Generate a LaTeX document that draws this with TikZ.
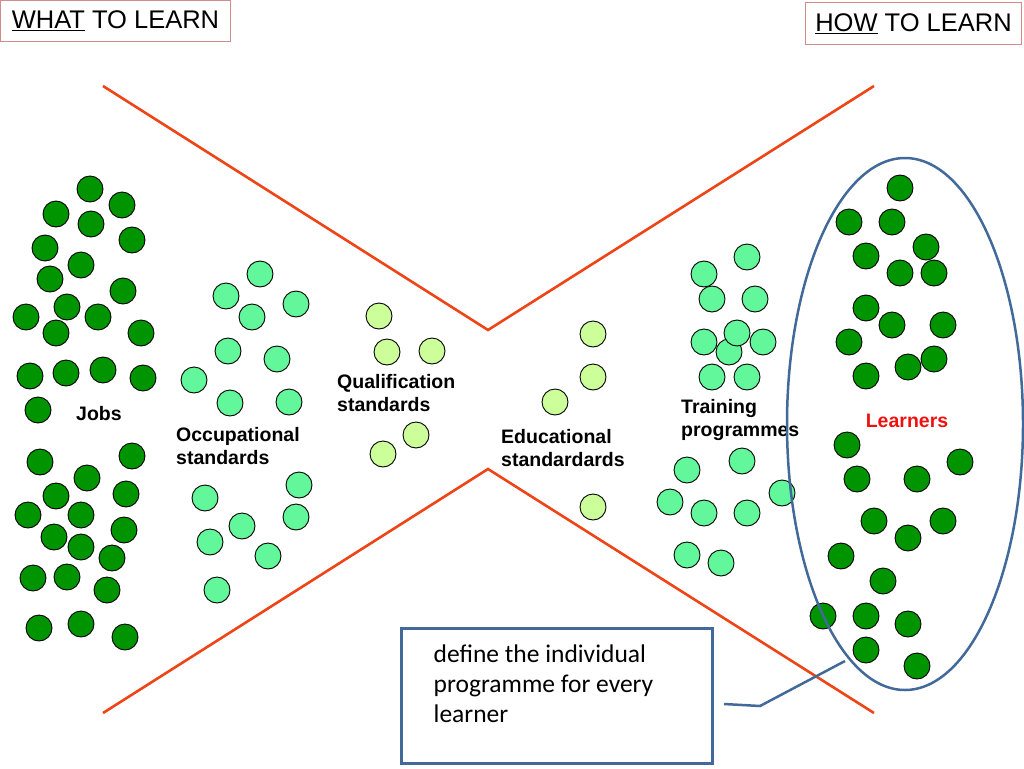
\documentclass[tikz,border=0pt]{standalone}
\usepackage{fontspec}
\setmainfont{Liberation Sans}
\newfontfamily\notefont{Carlito}
\usetikzlibrary{shapes.geometric}

\definecolor{jobgreen}{HTML}{009400}
\definecolor{occgreen}{HTML}{62F79A}
\definecolor{qualgreen}{HTML}{CCFF99}
\definecolor{funnelred}{HTML}{EE4416}
\definecolor{callblue}{HTML}{41699A}
\definecolor{tagred}{HTML}{D38C8C}
\definecolor{learnerred}{HTML}{F01010}

\begin{document}
\begin{tikzpicture}[x=1pt,y=-1pt,
  dot/.style={circle,draw=black,line width=0.9pt,minimum size=26pt,inner sep=0pt},
  jobdot/.style={dot,fill=jobgreen},
  occdot/.style={dot,fill=occgreen},
  qualdot/.style={dot,fill=qualgreen},
  grouplabel/.style={font=\fontsize{19.5}{23.5}\selectfont\bfseries,align=left,anchor=base west,inner sep=0pt},
  headtag/.style={draw=tagred,line width=1pt,anchor=north west,font=\fontsize{25.5}{30}\selectfont,text height=18.2pt,text depth=3pt,inner xsep=0pt},
  funnel/.style={draw=funnelred,line width=2.6pt},
  callout/.style={draw=callblue,line width=2.5pt}]
\useasboundingbox (0,0) rectangle (1024,768);

% headings
\node[headtag,minimum width=230pt,minimum height=41pt] (what) at (0,0) {\underline{WHAT} TO LEARN};
\node[headtag,minimum width=216pt,minimum height=42pt] (how) at (805,2) {\underline{HOW} TO LEARN};

% funnel
\coordinate (topleft) at (103,86);
\coordinate (topwaist) at (488,330);
\coordinate (topright) at (874,86);
\coordinate (botleft) at (103,713);
\coordinate (botwaist) at (488,469);
\coordinate (botright) at (874,713);
\draw[funnel] (topleft) -- (topwaist) -- (topright);
\draw[funnel] (botleft) -- (botwaist) -- (botright);

% jobs
\foreach \px/\py [count=\i] in {90/189,122/205,56/214,91/224,132/240,45/248,81/265,50/279,123/291,
  67/307,26/317,98/317,56/333,141/333,30/376,66/373,103/370,143/378,38/410,
  40/462,132/456,87/478,56/496,126/494,28/515,81/515,54/537,124/530,81/547,
  112/558,33/578,67/577,107/590,39/628,81/624,125/637}
  \node[jobdot] (job\i) at (\px,\py) {};

% occupational standards
\foreach \px/\py [count=\i] in {260/274,226/296,296/304,252/317,228/351,277/359,194/380,230/403,289/402,
  299/485,205/498,296/517,242/526,210/542,268/556,217/590}
  \node[occdot] (occ\i) at (\px,\py) {};

% qualification standards
\foreach \px/\py [count=\i] in {379/316,387/352,432/351,416/435,383/454}
  \node[qualdot] (qual\i) at (\px,\py) {};

% educational standards
\foreach \px/\py [count=\i] in {593/334,593/377,555/402,593/507}
  \node[qualdot] (edu\i) at (\px,\py) {};

% training programmes
\foreach \px/\py [count=\i] in {747/257,704/274,712/299,755/299,704/342,763/342,729/352,737/333,712/377,747/377,
  742/461,687/470,782/493,670/502,704/513,747/513,687/555,721/563}
  \node[occdot] (train\i) at (\px,\py) {};

% learners
\foreach \px/\py [count=\i] in {900/188,849/222,892/222,926/247,866/256,900/273,934/273,866/308,892/325,943/325,
  849/342,908/367,934/359,866/376,847/445,960/462,857/479,917/479,874/521,943/521,
  908/538,841/556,883/581,823/616,866/616,908/624,866/650,917/666}
  \node[jobdot] (learner\i) at (\px,\py) {};

% labels (base = last line)
\node[grouplabel] (jobslabel) at (76,420) {Jobs};
\node[grouplabel] (occlabel) at (176,464.5) {Occupational\\standards};
\node[grouplabel] (quallabel) at (337,411.5) {Qualification\\standards};
\node[grouplabel] (edulabel) at (501,466.5) {Educational\\standardards};
\node[grouplabel] (trainlabel) at (681,436.5) {Training\\programmes};
\node[grouplabel,text=learnerred,anchor=base] (learnlabel) at (907,427) {Learners};

% learners ellipse
\node[ellipse,callout,minimum width=236pt,minimum height=532pt,inner sep=0pt] (learnerset) at (905,424) {};

% note
\node[callout,anchor=north west,minimum width=311pt,minimum height=135pt,inner sep=0pt] (note) at (400,627) {};
\node[font=\notefont\fontsize{25.5}{30}\selectfont,align=left,anchor=base west,inner sep=0pt] (notetext) at (433.5,722.7)
  {define the individual\\programme for every\\learner};
\coordinate (notetail) at (724,704);
\coordinate (notebend) at (760,706);
\coordinate (notetip) at (845,661);
\draw[callout] (notetail) -- (notebend) -- (notetip);
\end{tikzpicture}
\end{document}
